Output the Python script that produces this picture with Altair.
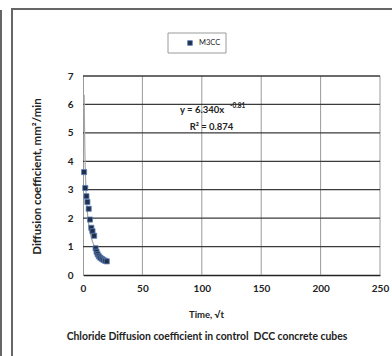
import altair as alt
import pandas as pd

# Chloride diffusion coefficient (mm^2/min) against square root of time
time_sqrt = [0.9, 1.9, 2.9, 3.7, 4.8, 5.9, 7.0, 8.0, 9.4, 10.6, 11.4, 12.3,
             13.3, 14.5, 15.8, 17.2, 18.6, 20.0]
diffusion = [3.62, 3.06, 2.77, 2.57, 2.33, 1.95, 1.66, 1.54, 1.38, 0.94, 0.82,
             0.73, 0.66, 0.61, 0.57, 0.53, 0.50, 0.48]
series_name = "M3CC"

# Power trendline  y = a * x^b
fit_a = 6.340
fit_b = -0.81
fit_r2 = 0.874
fit_range = (1, 20.25, 0.25)

x_ticks = [0, 50, 100, 150, 200, 250]
y_ticks = [0, 1, 2, 3, 4, 5, 6, 7]

FONT = "Lato"
W, H = 297, 199

df = pd.DataFrame({"t": time_sqrt, "d": diffusion, "series": series_name})

x_enc = alt.X("t:Q", scale=alt.Scale(domain=[0, 250], nice=False),
              axis=alt.Axis(values=x_ticks, title="Time, √t",
                            titleX=123, titleY=39, titleBaseline="middle",
                            titleAlign="center", titleFontSize=9.5,
                            labelOverlap=False, labelFlush=False, labelBound=False))
y_enc = alt.Y("d:Q", scale=alt.Scale(domain=[0, 7], nice=False),
              axis=alt.Axis(values=y_ticks, tickCount=8,
                            title="Diffusion coefficient, mm²/min",
                            titleX=-46, titleY=100, titleBaseline="middle",
                            titleAlign="center", titleFontSize=11.5,
                            labelOverlap=False, labelFlush=False, labelBound=False))

# x gridlines (light) drawn separately from the darker y gridlines
vgrid = alt.Chart(pd.DataFrame({"g": x_ticks[1:]})).mark_rule(
    color="#9a9a9a", strokeWidth=1
).encode(x=alt.X("g:Q", scale=alt.Scale(domain=[0, 250], nice=False)),
         y=alt.value(0), y2=alt.value(H))

hgrid = alt.Chart(pd.DataFrame({"g": y_ticks[1:]})).mark_rule(
    color="#3a3a3a", strokeWidth=1.3
).encode(y=alt.Y("g:Q", scale=alt.Scale(domain=[0, 7], nice=False)),
         x=alt.value(0), x2=alt.value(W))

trend = alt.Chart(alt.sequence(*fit_range, as_="t")).transform_calculate(
    d=f"{fit_a} * pow(datum.t, {fit_b})"
).mark_line(color="#a8a8a8", strokeWidth=1.2).encode(x=x_enc, y=y_enc)

points = alt.Chart(df).mark_point(
    shape="square", filled=True, size=26, color="#1f2f4d",
    stroke="#5d7fb5", strokeWidth=0.8, opacity=1
).encode(x=x_enc, y=y_enc)

one = alt.Data(values=[{}])

eq_main = alt.Chart(one).mark_text(
    text="y = 6.340x", align="left", baseline="middle",
    font=FONT, fontWeight="bold", fontSize=9.5, color="#222"
).encode(x=alt.value(97), y=alt.value(34))
eq_exp = alt.Chart(one).mark_text(
    text="-0.81", align="left", baseline="middle",
    font=FONT, fontWeight="bold", fontSize=6.5, color="#222"
).encode(x=alt.value(147), y=alt.value(29.5))
eq_r2 = alt.Chart(one).mark_text(
    text=f"R² = {fit_r2}", align="center", baseline="middle",
    font=FONT, fontWeight="bold", fontSize=9.5, color="#222"
).encode(x=alt.value(128.5), y=alt.value(50.5))

# legend box
leg_box = alt.Chart(one).mark_rect(
    fill="white", stroke="#9a9a9a", strokeWidth=1
).encode(x=alt.value(85), x2=alt.value(143), y=alt.value(-43), y2=alt.value(-23))
leg_sym = alt.Chart(one).mark_point(
    shape="square", filled=True, size=22, color="#1f2f4d",
    stroke="#5d7fb5", strokeWidth=0.8, opacity=1
).encode(x=alt.value(107), y=alt.value(-33))
leg_txt = alt.Chart(one).mark_text(
    text=series_name, align="left", baseline="middle",
    font=FONT, fontSize=7.5, color="#222"
).encode(x=alt.value(116), y=alt.value(-33))

# caption under the axis title (non-breaking space keeps the double gap)
caption = alt.Chart(one).mark_text(
    text="Chloride Diffusion coefficient in control\u00a0 DCC concrete cubes",
    align="center", baseline="middle", font=FONT, fontWeight="bold",
    fontSize=10.4, color="#222"
).encode(x=alt.value(124), y=alt.value(261))

# outer frame
frame = alt.Chart(one).mark_rect(
    fill=None, stroke="#666", strokeWidth=2
).encode(x=alt.value(-71), x2=alt.value(360), y=alt.value(-67), y2=alt.value(340))
side = alt.Chart(one).mark_rule(color="#666", strokeWidth=2).encode(
    x=alt.value(-82), y=alt.value(-66), y2=alt.value(340))

chart = alt.layer(
    frame, side, vgrid, hgrid, trend, points,
    eq_main, eq_exp, eq_r2, leg_box, leg_sym, leg_txt, caption
).properties(
    width=W, height=H,
    padding={"left": 83, "top": 76, "right": 12, "bottom": 81},
    autosize=alt.AutoSizeParams(type="none"),
).configure_view(stroke=None).configure_axis(
    grid=False, ticks=False, labelFont=FONT, labelFontWeight="bold",
    labelFontSize=10, labelColor="#222", titleFont=FONT, titleFontWeight="bold",
    titleColor="#222"
).configure_axisX(
    domainColor="#222", domainWidth=1.5, labelPadding=8
).configure_axisY(
    domainColor="#999", domainWidth=1, labelPadding=10
)

chart.save("out.html", embed_options={"renderer": "svg", "actions": False})
